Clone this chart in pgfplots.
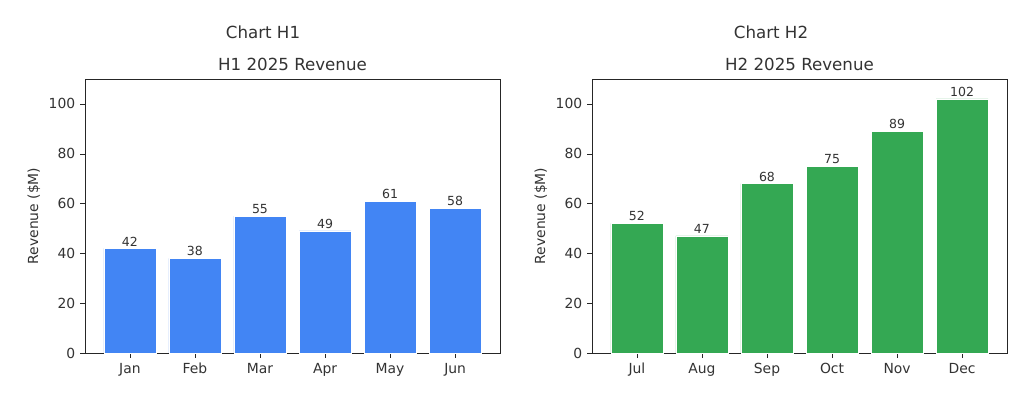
\documentclass[border=0pt]{standalone}
\usepackage{pgfplots}
\pgfplotsset{compat=1.18}
\usepackage{fontspec}
\setmainfont{DejaVu Sans}
\definecolor{barblue}{HTML}{4285F4}
\definecolor{bargreen}{HTML}{34A853}
\definecolor{txt}{HTML}{333333}
\begin{document}
\begin{tikzpicture}[x=0.72pt,y=0.72pt]
\path[use as bounding box, fill=white] (0,0) rectangle (1036,410);
\pgfplotsset{myax/.style={
  scale only axis, width=298.8pt, height=197.28pt,
  ymin=0, ymax=110, xmin=-0.69, xmax=5.69,
  ytick={0,20,...,100}, xtick={0,...,5},
  tick align=outside, tick pos=left, major tick length=3.5pt,
  ybar, bar width=0.8,
  ticklabel style={font=\fontsize{10}{12}\selectfont, text=txt},
  xticklabel style={text height=7.5pt, text depth=2pt},
  /pgf/number format/assume math mode=true,
  ylabel={Revenue (\$M)},
  ylabel style={font=\fontsize{10}{12}\selectfont, text=txt, at={(axis description cs:-0.123,0.5)}, anchor=center},
  nodes near coords,
  every node near coord/.style={font=\fontsize{9}{10}\selectfont, text=txt, anchor=south, inner sep=1.5pt},
  axis line style={black!85}, major tick style={black!85},
  clip=false}}
\begin{axis}[myax, at={(61.2pt,41.04pt)}, anchor=south west,
  xticklabels={Jan,Feb,Mar,Apr,May,Jun}]
\addplot[fill=barblue, draw=white, line width=0.4pt] coordinates {(0,42) (1,38) (2,55) (3,49) (4,61) (5,58)};
\end{axis}
\begin{axis}[myax, at={(426.24pt,41.04pt)}, anchor=south west,
  xticklabels={Jul,Aug,Sep,Oct,Nov,Dec}]
\addplot[fill=bargreen, draw=white, line width=0.4pt] coordinates {(0,52) (1,47) (2,68) (3,75) (4,89) (5,102)};
\end{axis}
\node[anchor=base, font=\fontsize{12}{14}\selectfont, text=txt] at (292.5,339) {H1 2025 Revenue};
\node[anchor=base, font=\fontsize{12}{14}\selectfont, text=txt] at (799.5,339) {H2 2025 Revenue};
\node[anchor=base, font=\fontsize{12}{14}\selectfont, text=txt] at (263,371.7) {Chart H1};
\node[anchor=base, font=\fontsize{12}{14}\selectfont, text=txt] at (771,371.7) {Chart H2};
\end{tikzpicture}
\end{document}
